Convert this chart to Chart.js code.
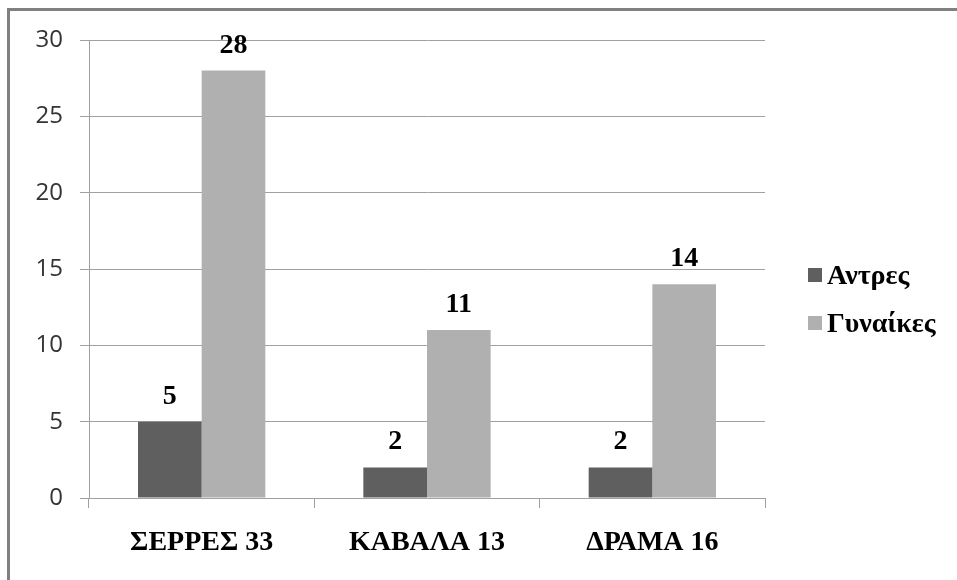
<!DOCTYPE html>
<html>
<head>
<meta charset="utf-8">
<script src="https://cdn.jsdelivr.net/npm/chart.js@4/dist/chart.umd.min.js"></script>
<style>
  html, body { margin:0; padding:0; background:#fff; }
  #wrap { position:relative; width:957px; height:580px; overflow:hidden; }
  #frame { position:absolute; left:7px; top:8px; right:-10px; bottom:-10px;
           border-top:3px solid #808080; border-left:3px solid #808080; }
  canvas { position:absolute; left:0; top:0; }
</style>
</head>
<body>
<div id="wrap">
  <div id="frame"></div>
  <canvas id="c" width="957" height="580"></canvas>
</div>
<script>
// Στοιχεία γραφήματος
const categories = ["ΣΕΡΡΕΣ 33", "ΚΑΒΑΛΑ 13", "ΔΡΑΜΑ 16"];
const seriesNames = ["Αντρες", "Γυναίκες"];
const men = [5, 2, 2];
const women = [28, 11, 14];
const yTicks = [0, 5, 10, 15, 20, 25, 30];

const COLORS = ["#5f5f5f", "#b0b0b0"];
const SERIF = "'Liberation Serif', 'DejaVu Serif', serif";

// Τιμές πάνω από τις μπάρες
const valueLabels = {
  id:"valueLabels",
  afterDatasetsDraw(c) {
    const { ctx } = c;
    ctx.save();
    ctx.font = "bold 28px " + SERIF;
    ctx.fillStyle = "#000";
    ctx.textAlign = "center";
    ctx.textBaseline = "alphabetic";
    c.data.datasets.forEach((ds, i) => {
      c.getDatasetMeta(i).data.forEach((bar, j) => {
        ctx.fillText(String(ds.data[j]), bar.x, bar.y - 18);
      });
    });
    ctx.restore();
  },
};

// Υπόμνημα δεξιά
const sideLegend = {
  id:"sideLegend",
  afterDraw(c) {
    const { ctx } = c;
    ctx.save();
    ctx.font = "bold 28px " + SERIF;
    ctx.textBaseline = "alphabetic";
    c.data.datasets.forEach((ds, i) => {
      const base = 284 + i * 48;
      ctx.fillStyle = ds.backgroundColor;
      ctx.fillRect(808, base - 16, 14, 14);
      ctx.fillStyle = "#000";
      ctx.fillText(ds.label, 827, base);
    });
    ctx.restore();
  },
};

new Chart(document.getElementById("c"), {
  type:"bar",
  data:{
    labels: categories,
    datasets:[
      { label: seriesNames[0], data: men, backgroundColor: COLORS[0] },
      { label: seriesNames[1], data: women, backgroundColor: COLORS[1] },
    ],
  },
  options:{
    responsive:false,
    animation:false,
    devicePixelRatio:1,
    layout:{ padding:{ top:40, right:192, left:0, bottom:0 } },
    datasets:{ bar:{ categoryPercentage:0.565, barPercentage:1.0 } },
    scales:{
      x:{
        offset:true,
        afterFit:(s) => { s.height = 82; },
        grid:{ offset:true, drawOnChartArea:false, color:"#a0a0a0", tickLength:10 },
        border:{ color:"#a0a0a0" },
        ticks:{ padding:18, color:"#000", font:{ family:SERIF, size:28, weight:"bold" } },
      },
      y:{
        min:0, max:30,
        afterFit:(s) => { s.width = 89; },
        afterBuildTicks:(s) => { s.ticks = yTicks.map(v => ({ value:v })); },
        grid:{ color:"#a0a0a0", tickLength:9 },
        border:{ color:"#a0a0a0" },
        ticks:{ padding:17, color:"#333", font:{ family:"'Open Sans', sans-serif", size:24 } },
      },
    },
    plugins:{ legend:{ display:false }, tooltip:{ enabled:false } },
  },
  plugins:[valueLabels, sideLegend],
});
</script>
</body>
</html>
